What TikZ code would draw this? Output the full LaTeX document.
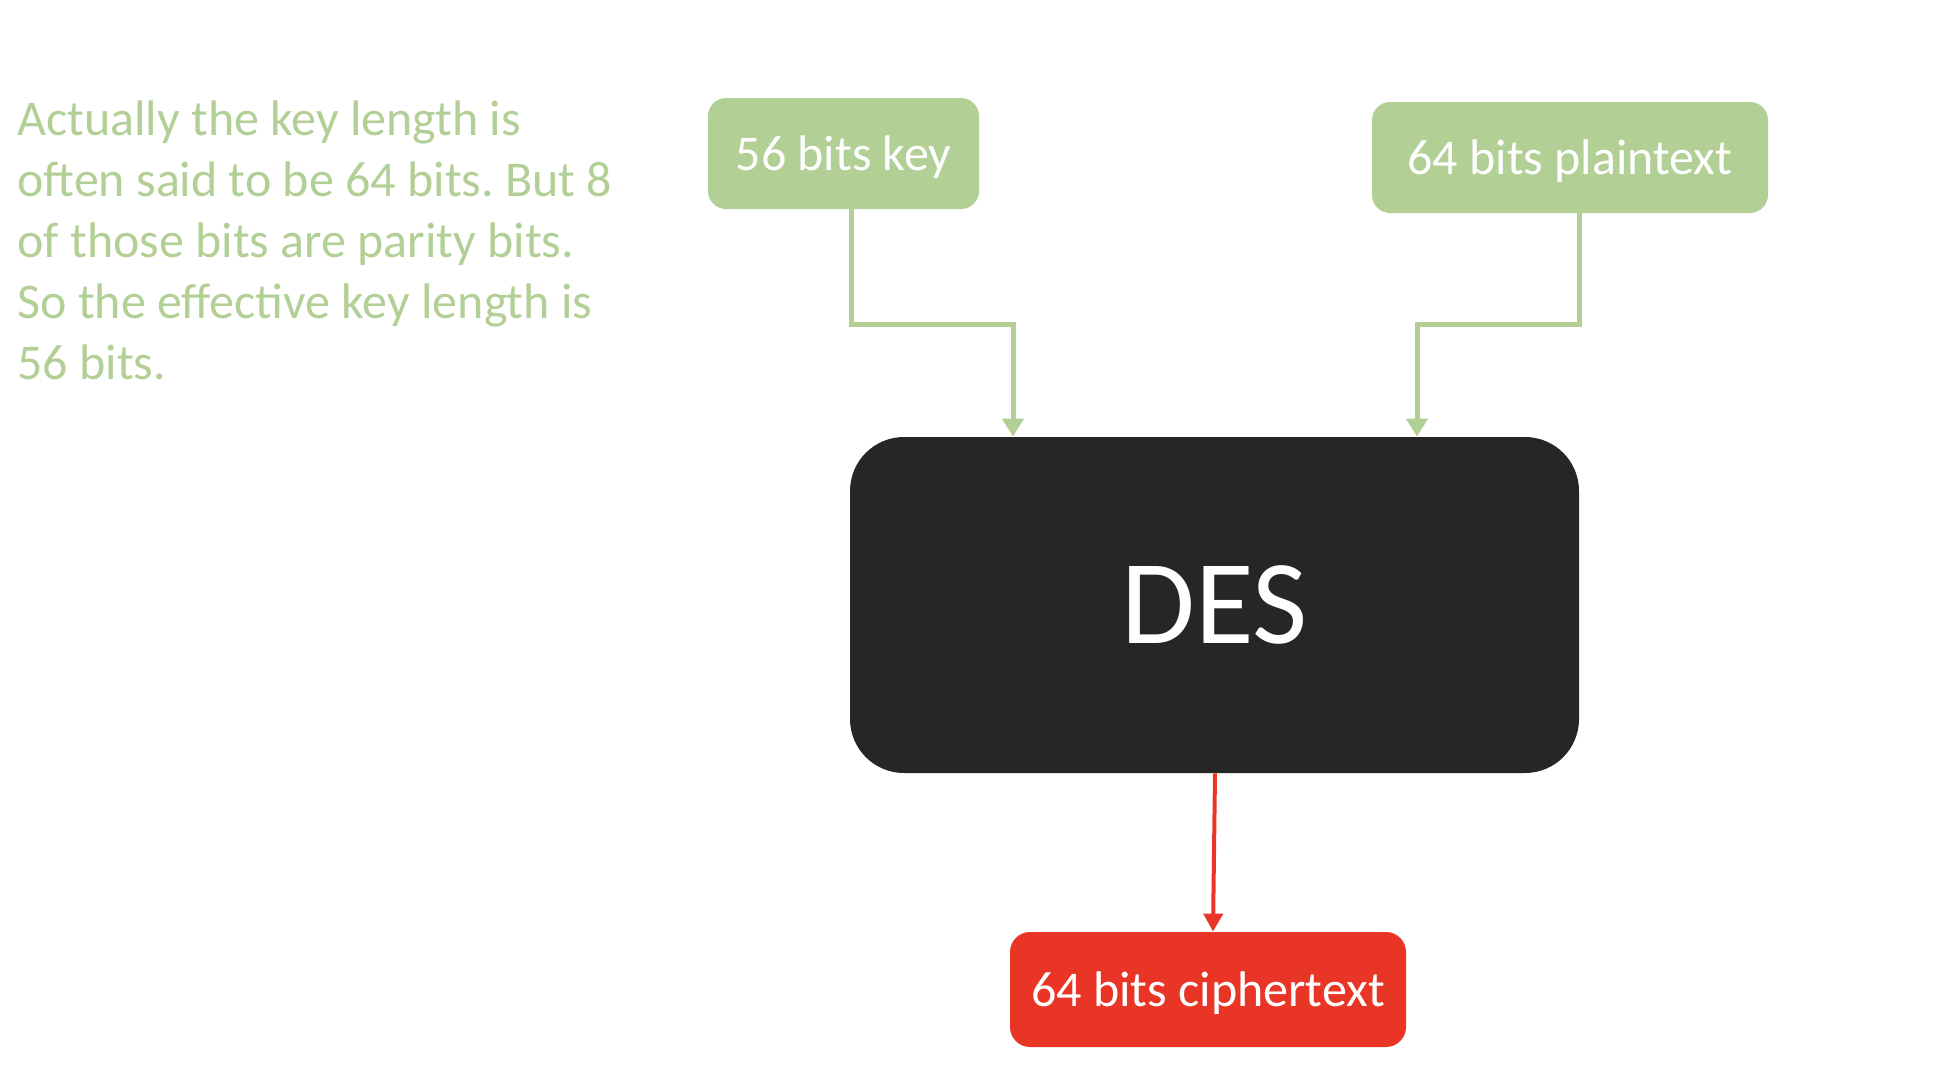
\documentclass[tikz,border=0pt]{standalone}
\usepackage{fontspec}
\setmainfont{Carlito}
\usetikzlibrary{arrows.meta,calc}
\definecolor{lgreen}{HTML}{B2CF96}
\definecolor{dred}{HTML}{E93526}
\definecolor{desgray}{HTML}{262626}
\frenchspacing
\tikzset{
  gbox/.style={fill=lgreen,draw=none,text=white,rounded corners=9pt,inner sep=0pt,text depth=0pt,font=\fontsize{25}{30}\selectfont},
  rbox/.style={fill=dred,draw=none,text=white,rounded corners=10pt,inner sep=0pt,text depth=0pt,font=\fontsize{25}{30}\selectfont},
  desbox/.style={fill=desgray,draw=none,text=white,rounded corners=27pt,inner sep=0pt,font=\fontsize{60}{72}\selectfont},
  gline/.style={draw=lgreen,line width=2.5pt,-{Triangle[width=10.5pt,length=9pt]}},
  rline/.style={draw=dred,line width=2pt,-{Triangle[width=9.5pt,length=9pt]}},
  note/.style={text=lgreen,align=left,inner sep=0pt,font=\fontsize{25}{30.5}\selectfont}
}
\begin{document}
\begin{tikzpicture}[x=0.5pt,y=-0.5pt]
\useasboundingbox (0,0) rectangle (1948,1082);
\node[gbox,minimum width=135.5pt,minimum height=55.5pt] (key) at (843.5,153.5) {56 bits key};
\node[gbox,minimum width=198pt,minimum height=55.5pt] (plain) at (1570,157.5) {64 bits plaintext};
\node[desbox,minimum width=364.5pt,minimum height=168pt] (des) at (1214.5,605) {DES};
\node[rbox,minimum width=198pt,minimum height=57.5pt] (ciph) at (1208,989.5) {64 bits ciphertext};
\node[note,anchor=base west] (txt) at (17,379) {Actually the key length is\\often said to be 64 bits. But 8\\of those bits are parity bits.\\So the effective key length is\\56 bits.};
\coordinate (k1) at (1013,324);
\coordinate (p1) at (1417,324);
\draw[gline] ([xshift=3.75pt]key.south) |- (k1) -- (k1 |- des.north);
\draw[gline] ([xshift=4.5pt]plain.south) |- (p1) -- (p1 |- des.north);
\draw[rline] ([xshift=0.25pt]des.south) -- ([xshift=2.5pt]ciph.north);
\end{tikzpicture}
\end{document}
